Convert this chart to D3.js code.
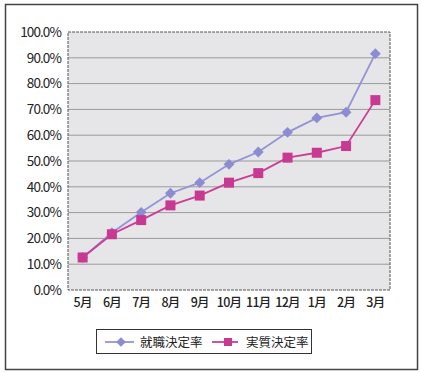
<!DOCTYPE html>
<html>
<head>
<meta charset="utf-8">
<script src="https://cdn.jsdelivr.net/npm/d3@7"></script>
<style>
body { margin: 0; background: #fff; }
svg text { font-family: "Noto Sans CJK JP", "Noto Sans", sans-serif; fill: #222; }
</style>
</head>
<body>
<svg id="chart" width="421" height="372"></svg>
<script>
// chart data
var months   = ["5月", "6月", "7月", "8月", "9月", "10月", "11月", "12月", "1月", "2月", "3月"];
var shushoku = [12.6, 22.2, 30.1, 37.5, 41.6, 48.7, 53.5, 61.1, 66.7, 68.9, 91.6];
var jisshitsu = [12.6, 21.6, 27.1, 32.8, 36.6, 41.6, 45.3, 51.3, 53.2, 55.8, 73.6];
var yTicks   = [0, 10, 20, 30, 40, 50, 60, 70, 80, 90, 100];
var names    = ["就職決定率", "実質決定率"];

var svg = d3.select("#chart");

var plotLeft = 68, plotRight = 390, plotTop = 32, plotBottom = 290;

// outer frame
svg.append("rect")
    .attr("x", 5.5).attr("y", 4.5)
    .attr("width", 412).attr("height", 365)
    .attr("fill", "#fff")
    .attr("stroke", "#444")
    .attr("stroke-width", 1.5);

var xScale = d3.scaleBand().domain(months).range([plotLeft, plotRight]);
var yScale = d3.scaleLinear().domain([0, 100]).range([plotBottom, plotTop]);

// plot area
svg.append("rect")
    .attr("x", plotLeft).attr("y", plotTop)
    .attr("width", plotRight - plotLeft).attr("height", plotBottom - plotTop)
    .attr("fill", "#e6e6e8");

// gridlines
svg.append("g")
    .selectAll("line")
    .data(yTicks.filter(function(d) { return d > 0 && d < 100; }))
    .enter()
    .append("line")
    .attr("x1", plotLeft).attr("x2", plotRight)
    .attr("y1", function(d) { return yScale(d); })
    .attr("y2", function(d) { return yScale(d); })
    .attr("stroke", "#9a9a9a")
    .attr("stroke-width", 1);

svg.append("rect")
    .attr("x", plotLeft).attr("y", plotTop)
    .attr("width", plotRight - plotLeft).attr("height", plotBottom - plotTop)
    .attr("fill", "none")
    .attr("stroke", "#555")
    .attr("stroke-dasharray", "3,1");

// y axis
var yAxis = d3.axisLeft(yScale)
    .tickValues(yTicks)
    .tickSize(0)
    .tickPadding(7)
    .tickFormat(function(d) { return d.toFixed(1) + "%"; });

var gy = svg.append("g")
    .attr("transform", "translate(" + plotLeft + ",0)")
    .call(yAxis);
gy.select(".domain").remove();
gy.selectAll("text").attr("font-size", 13.5).attr("fill", "#222")
    .attr("font-family", "Roboto, sans-serif").attr("letter-spacing", -0.9);

// x axis
var xAxis = d3.axisBottom(xScale).tickSize(0).tickPadding(8);
var gx = svg.append("g")
    .attr("transform", "translate(0," + plotBottom + ")")
    .call(xAxis);
gx.select(".domain").remove();
gx.selectAll("text").attr("font-size", 12.5).attr("fill", "#222").attr("font-weight", 500)
    .attr("letter-spacing", -0.8);

var line = d3.line()
    .x(function(d, i) { return xScale(months[i]) + xScale.bandwidth() / 2; })
    .y(function(d) { return yScale(d); });

var blue = "#9393d6", pink = "#cc3d96";

// series 1 - diamonds
svg.append("path")
    .datum(shushoku)
    .attr("d", line)
    .attr("fill", "none")
    .attr("stroke", blue)
    .attr("stroke-width", 1.8);

svg.append("g")
    .selectAll("path")
    .data(shushoku)
    .enter()
    .append("path")
    .attr("d", d3.symbol().type(d3.symbolDiamond2).size(75))
    .attr("transform", function(d, i) {
        return "translate(" + (xScale(months[i]) + xScale.bandwidth() / 2) + "," + yScale(d) + ")";
    })
    .attr("fill", "#8c8cd2");

// series 2 - squares
svg.append("path")
    .datum(jisshitsu)
    .attr("d", line)
    .attr("fill", "none")
    .attr("stroke", pink)
    .attr("stroke-width", 1.8);

svg.append("g")
    .selectAll("rect")
    .data(jisshitsu)
    .enter()
    .append("rect")
    .attr("x", function(d, i) { return xScale(months[i]) + xScale.bandwidth() / 2 - 5; })
    .attr("y", function(d) { return yScale(d) - 5; })
    .attr("width", 10).attr("height", 10)
    .attr("fill", "#c83a92");

// legend
var lg = svg.append("g");
lg.append("rect")
    .attr("x", 96.5).attr("y", 329.5)
    .attr("width", 215).attr("height", 24)
    .attr("fill", "#fff")
    .attr("stroke", "#333");

lg.append("line").attr("x1", 105).attr("x2", 134).attr("y1", 342).attr("y2", 342)
    .attr("stroke", blue).attr("stroke-width", 1.8);
lg.append("path")
    .attr("d", d3.symbol().type(d3.symbolDiamond2).size(60))
    .attr("transform", "translate(121,342)")
    .attr("fill", "#8c8cd2");
lg.append("text").attr("x", 140).attr("y", 346.5)
    .attr("font-size", 12.5).attr("fill", "#444")
    .text(names[0]);

lg.append("line").attr("x1", 212).attr("x2", 238).attr("y1", 342).attr("y2", 342)
    .attr("stroke", pink).attr("stroke-width", 1.8);
lg.append("rect").attr("x", 224).attr("y", 338).attr("width", 8).attr("height", 8)
    .attr("fill", "#c83a92");
lg.append("text").attr("x", 246).attr("y", 346.5)
    .attr("font-size", 12.5).attr("fill", "#444")
    .text(names[1]);
</script>
</body>
</html>
